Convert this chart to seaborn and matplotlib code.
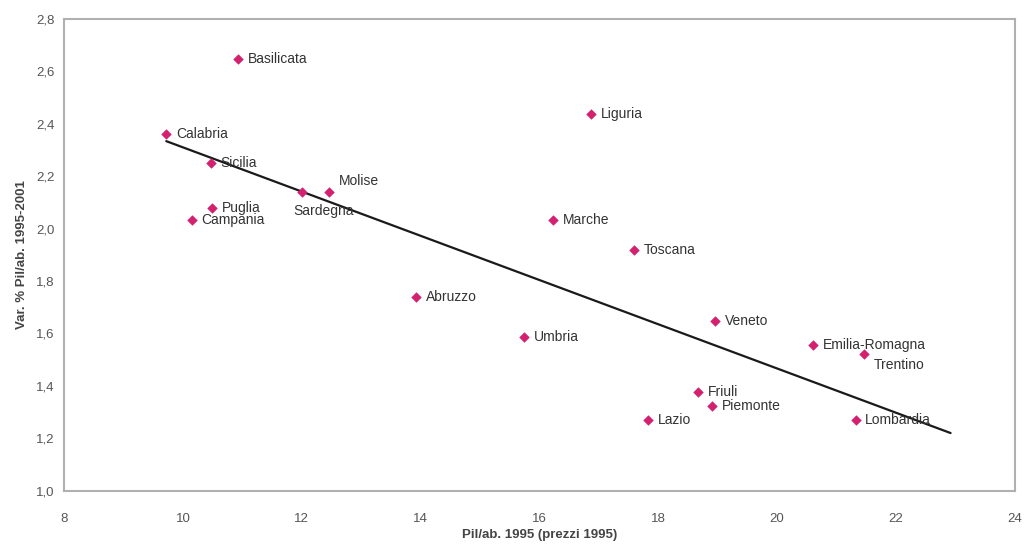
import matplotlib
matplotlib.use("Agg")
import matplotlib.pyplot as plt
import seaborn as sns
import numpy as np
import pandas as pd

# data
regions = ["Basilicata", "Liguria", "Calabria", "Sicilia", "Sardegna", "Molise",
           "Puglia", "Campania", "Marche", "Toscana", "Abruzzo", "Umbria",
           "Veneto", "Emilia-Romagna", "Trentino", "Friuli", "Piemonte",
           "Lazio", "Lombardia"]
pil_1995 = [10.93, 16.87, 9.72, 10.47, 12.00, 12.46, 10.49, 10.15, 16.23, 17.60,
            13.93, 15.74, 18.96, 20.61, 21.47, 18.67, 18.91, 17.83, 21.32]
var_pct = [2.647, 2.437, 2.361, 2.250, 2.140, 2.140, 2.079, 2.033, 2.033, 1.918,
           1.739, 1.586, 1.647, 1.556, 1.521, 1.376, 1.323, 1.270, 1.270]
# linear trendline as drawn in the source (Excel, forecast forward)
trend_x = [9.72, 22.92]
trend_y = [2.334, 1.22]

df = pd.DataFrame({"region": regions, "x": pil_1995, "y": var_pct})

sns.set_style("white")
plt.rcParams["font.family"] = ["Liberation Sans", "DejaVu Sans"]

fig, ax = plt.subplots(figsize=(10.25, 5.44), dpi=100)
fig.subplots_adjust(left=0.0625, right=0.99, top=0.965, bottom=0.098)

sns.scatterplot(data=df, x="x", y="y", ax=ax, marker="D", s=24,
                color="#d4206e", edgecolor="#d4206e", zorder=3)

sns.lineplot(x=trend_x, y=trend_y, ax=ax, color="#1a1a1a", lw=1.6, zorder=2)

# labels
offsets = {"Sardegna": (-6, -9, "left", "top"),
           "Molise": (7, 3, "left", "bottom"),
           "Trentino": (7, -3, "left", "top")}
for _, r in df.iterrows():
    dx, dy, ha, va = offsets.get(r["region"], (7, 0, "left", "center"))
    ax.annotate(r["region"], (r["x"], r["y"]), xytext=(dx, dy),
                textcoords="offset points", ha=ha, va=va,
                fontsize=10, color="#333333")

ax.set_xlim(8, 24)
ax.set_ylim(1.0, 2.8)
ax.set_xticks(np.arange(8, 25, 2))
ax.set_yticks(np.arange(1.0, 2.81, 0.2))
ax.set_yticklabels([f"{v:.1f}".replace(".", ",") for v in np.arange(1.0, 2.81, 0.2)])
ax.tick_params(axis="both", labelsize=9.5, colors="#555555", length=0)
ax.tick_params(axis="x", pad=16)
ax.tick_params(axis="y", pad=7)

ax.set_xlabel("Pil/ab. 1995 (prezzi 1995)", fontsize=9.5, fontweight="bold",
              color="#444444", labelpad=3)
ax.set_ylabel("Var. % Pil/ab. 1995-2001", fontsize=9.5, fontweight="bold",
              color="#444444", labelpad=6)

for sp in ax.spines.values():
    sp.set_color("#b0b0b0")
    sp.set_linewidth(1.5)

fig.savefig("out.png", dpi=100, facecolor="white")
